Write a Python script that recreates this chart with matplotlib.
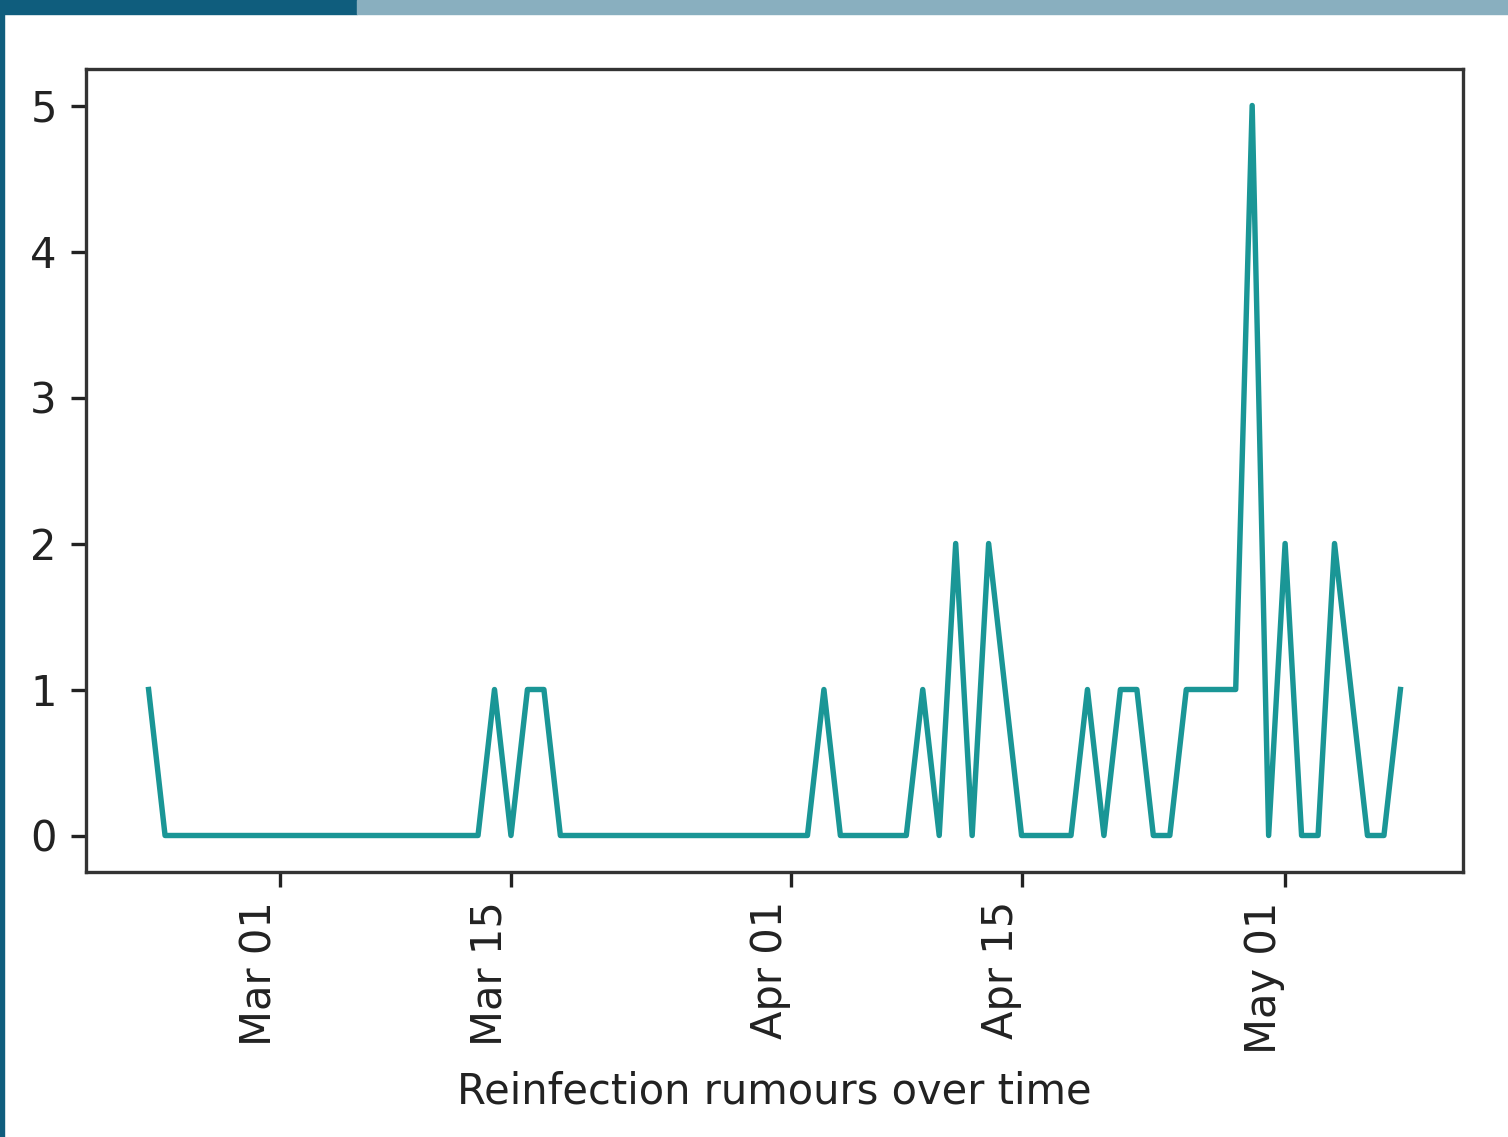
import numpy as np
import pandas as pd
import matplotlib
matplotlib.use("Agg")
import matplotlib.pyplot as plt
import matplotlib.dates as mdates
from matplotlib.patches import Rectangle

# daily counts of reinfection rumours, 2020-02-22 .. 2020-05-08
dates = pd.date_range("2020-02-22", "2020-05-08", freq="D")
counts = [1, 0, 0, 0, 0, 0, 0, 0, 0, 0,   # Feb 22 - Mar 02
          0, 0, 0, 0, 0, 0, 0, 0, 0, 0,   # Mar 03 - Mar 12
          0, 1, 0, 1, 1, 0, 0, 0, 0, 0,   # Mar 13 - Mar 22
          0, 0, 0, 0, 0, 0, 0, 0, 0, 0,   # Mar 23 - Apr 01
          0, 1, 0, 0, 0, 0, 0, 1, 0, 2,   # Apr 02 - Apr 11
          0, 2, 1, 0, 0, 0, 0, 1, 0, 1,   # Apr 12 - Apr 21
          1, 0, 0, 1, 1, 1, 1, 5, 0, 2,   # Apr 22 - May 01
          0, 0, 2, 1, 0, 0, 1]            # May 02 - May 08

LINE = "#1a9696"
S = 3.0  # the reference is a default-styled matplotlib figure scaled up ~3x

fig = plt.figure(figsize=(15.08, 11.37), dpi=100)
# slide decoration: top bar + left edge
fig.patches.append(Rectangle((0, 1 - 14 / 1137), 357 / 1508, 14 / 1137,
                             transform=fig.transFigure, color="#0f5d7d", zorder=0))
fig.patches.append(Rectangle((357 / 1508, 1 - 14 / 1137), 1, 14 / 1137,
                             transform=fig.transFigure, color="#89afbf", zorder=0))
fig.patches.append(Rectangle((0, 0), 4 / 1508, 1,
                             transform=fig.transFigure, color="#0f5d7d", zorder=0))

ax = fig.add_axes([86 / 1508, 1 - 872 / 1137, (1463 - 86) / 1508, (872 - 69) / 1137])
ax.plot(dates, counts, color=LINE, lw=1.3 * S)

ax.xaxis.set_major_locator(mdates.DayLocator(bymonthday=[1, 15]))
ax.xaxis.set_major_formatter(mdates.DateFormatter("%b %d"))
ax.set_yticks(range(6))
ax.tick_params(axis="both", labelsize=10 * S, length=3.5 * S, width=0.8 * S,
               pad=3.5 * S, colors="#222222")
plt.setp(ax.get_xticklabels(), rotation=90, ha="right")
ax.set_xlabel("Reinfection rumours over time", fontsize=10 * S, color="#222222",
              labelpad=4 * S)
for s in ax.spines.values():
    s.set_linewidth(0.8 * S)
    s.set_color("#333333")

fig.savefig("out.png", dpi=100)
